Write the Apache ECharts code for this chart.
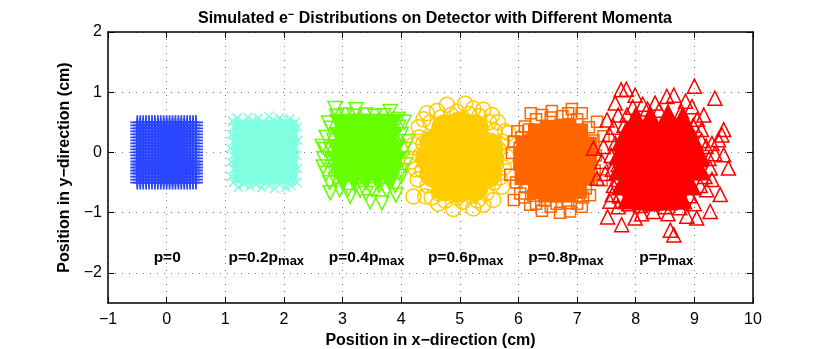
<!DOCTYPE html>
<html>
<head>
<meta charset="utf-8">
<script src="https://cdn.jsdelivr.net/npm/echarts@6/dist/echarts.min.js"></script>
<style>
  html, body { margin: 0; background: #fff; }
  #chart { width: 830px; height: 349px; }
</style>
</head>
<body>
<div id="chart"></div>
<script>
  const yTicks = [-2, -1, 0, 1, 2]

  const labelNames = ['p=0', 'p=0.2p', 'p=0.4p', 'p=0.6p', 'p=0.8p', 'p=p']
  const labelX = [0.01, 1.70, 3.41, 5.10, 6.81, 8.52]
  const labelY = -1.74

  // p=0 is a regular grid of source positions
  const blueGrid = [-0.5, -0.45, -0.4, -0.35, -0.3, -0.25, -0.2, -0.15, -0.1, -0.05, 0, 0.05, 0.1, 0.15, 0.2, 0.25, 0.3, 0.35, 0.4, 0.45, 0.5]

  // outer points, inner ones fill the solid part of each cloud
  const aquaEdge = [[1.12,.52],[1.2,.57],[1.3,.5],[1.38,.58],[1.47,.53],[1.56,.57],[1.65,.5],[1.74,.6],[1.82,.54],[1.92,.57],[2.0,.52],[2.1,.56],[2.19,.5],[2.23,.42],[2.18,.3],[2.24,.2],[2.19,.08],[2.22,-.05],[2.17,-.16],[2.23,-.27],[2.18,-.38],[2.22,-.5],[2.12,-.55],[2.03,-.58],[1.92,-.53],[1.84,-.6],[1.74,-.55],[1.62,-.58],[1.52,-.53],[1.42,-.57],[1.32,-.52],[1.22,-.58],[1.14,-.5],[1.1,-.4],[1.15,-.28],[1.1,-.16],[1.14,-.05],[1.09,.07],[1.14,.18],[1.11,.3],[1.15,.42],[1.25,.47],[1.43,.48],[1.6,.46],[1.78,.48],[1.97,.46],[2.13,.44],[2.12,.25],[2.14,.02],[2.13,-.22],[2.13,-.44],[1.97,-.47],[1.78,-.48],[1.58,-.47],[1.38,-.48],[1.2,-.44],[1.2,-.22],[1.19,0],[1.2,.24]]
  const aquaCore = [[1.3,.36],[1.5,.36],[1.7,.36],[1.9,.36],[2.05,.36],[1.3,.13],[1.5,.13],[1.7,.13],[1.9,.13],[2.05,.13],[1.3,-.1],[1.5,-.1],[1.7,-.1],[1.9,-.1],[2.05,-.1],[1.3,-.34],[1.5,-.34],[1.7,-.34],[1.9,-.34],[2.05,-.34]]

  const greenEdge = [[2.87,.73],[3.23,.71],[3.81,.68],[4.05,.5],[4.12,.18],[2.76,.49],[2.65,.1],[2.67,-.24],[2.79,-.67],[3.47,-.82],[3.67,-.84],[3.91,-.71],[3.13,-.73],[4.07,-.21],[2.9,.6],[3.05,.62],[3.2,.6],[3.4,.62],[3.55,.6],[3.7,.61],[3.95,.55],[2.8,.4],[2.72,.25],[2.7,.05],[2.68,-.1],[2.72,-.35],[2.78,-.5],[2.95,-.62],[3.1,-.6],[3.3,-.63],[3.5,-.62],[3.75,-.63],[3.9,-.55],[4.0,-.4],[4.02,-.1],[4.05,.05],[4.0,.3],[3.96,.42],[4.0,-.3],[2.85,-.3],[2.85,.2],[2.83,-.15],[2.88,-.45],[3.0,-.5],[3.22,-.55],[3.4,-.68],[3.62,-.55],[3.82,-.5],[3.93,-.15],[3.95,.1],[2.8,.05]]
  const greenCore = [[3.0,.42],[3.2,.42],[3.4,.42],[3.6,.42],[3.8,.42],[3.0,.2],[3.2,.2],[3.4,.2],[3.6,.2],[3.8,.2],[2.95,0],[3.2,0],[3.4,0],[3.6,0],[3.85,0],[2.95,-.2],[3.2,-.2],[3.4,-.2],[3.6,-.2],[3.85,-.2],[3.0,-.42],[3.2,-.42],[3.4,-.42],[3.6,-.42],[3.8,-.42]]

  const yellowEdge = [[4.61,.69],[4.78,.79],[5.09,.81],[4.44,.65],[5.55,.62],[5.23,.73],[5.4,.71],[5.77,.35],[5.83,.32],[4.21,.13],[4.18,-.15],[4.21,-.73],[4.41,-.73],[4.63,-.85],[4.89,-.94],[5.23,-.93],[5.4,-.87],[5.57,-.79],[5.72,-.57],[5.8,-.07],[4.3,.42],[4.38,.55],[4.95,.68],[5.65,.5],[5.72,.18],[5.75,-.25],[5.68,-.42],[4.28,-.45],[4.25,-.28],[4.3,.25],[4.52,-.75],[5.05,-.82],[5.3,-.8],[4.75,-.8],[4.5,.5],[4.68,.58],[4.85,.62],[5.15,.64],[5.33,.6],[5.5,.5],[5.6,.35],[5.66,.05],[5.62,-.2],[5.58,-.5],[5.45,-.68],[5.2,-.72],[4.95,-.75],[4.65,-.68],[4.45,-.55],[4.36,-.3],[4.32,-.05],[4.38,.15]]
  const yellowCore = [[4.75,.4],[5.0,.45],[5.25,.4],[4.55,.15],[4.8,.15],[5.05,.17],[5.3,.15],[5.5,.1],[4.48,-.1],[4.75,-.1],[5.0,-.1],[5.25,-.1],[5.52,-.1],[4.55,-.35],[4.8,-.35],[5.05,-.35],[5.3,-.35],[5.48,-.35],[4.75,-.58],[5.0,-.6],[5.25,-.58]]

  const orangeEdge = [[6.21,.65],[6.4,.62],[6.57,.69],[6.91,.72],[7.08,.65],[6.85,.65],[6.11,.43],[7.34,.51],[5.92,.18],[5.89,-.01],[5.86,-.37],[5.92,-.79],[6.2,-.87],[6.4,-.97],[6.71,-1.0],[6.88,-.98],[7.08,-.9],[7.22,-.71],[7.42,-.46],[7.45,.27],[6.03,-.68],[5.98,.35],[6.3,.55],[6.55,.58],[6.75,.6],[7.0,.55],[7.2,.42],[6.02,-.2],[5.96,-.5],[6.1,-.75],[6.3,-.85],[6.55,-.9],[7.0,-.85],[7.15,-.6],[7.3,-.3],[6.02,.08],[6.05,.25],[6.18,.38],[7.28,.2],[7.32,-.05],[7.25,-.45],[6.12,-.58],[6.25,-.72],[6.45,-.8],[6.65,-.85],[6.85,-.84],[7.1,-.75]]
  const orangeCore = [[6.35,.3],[6.55,.36],[6.8,.38],[7.0,.3],[6.15,.1],[6.4,.12],[6.65,.12],[6.9,.12],[7.15,.08],[6.1,-.12],[6.35,-.12],[6.6,-.12],[6.85,-.12],[7.15,-.12],[6.12,-.36],[6.4,-.36],[6.65,-.36],[6.9,-.36],[7.12,-.36],[6.35,-.58],[6.55,-.65],[6.8,-.65],[6.98,-.58]]

  const redEdge = [[7.75,1.04],[7.84,1.05],[7.99,.95],[7.65,.82],[9.0,1.1],[9.35,.9],[8.33,.82],[8.65,.95],[8.53,.93],[8.96,.76],[9.16,.62],[9.5,.38],[9.47,.29],[9.41,.21],[9.5,-.04],[9.58,-.26],[9.27,-.26],[9.21,-.62],[9.44,-.7],[9.27,-.98],[9.04,-1.09],[8.59,-1.29],[8.65,-1.37],[7.76,-1.2],[7.52,-1.07],[7.99,-1.09],[7.28,.07],[7.34,-.43],[7.51,.54],[7.56,-.81],[8.87,-1.06],[7.7,.62],[7.55,.3],[7.45,.1],[7.42,-.15],[7.48,-.35],[7.62,-.55],[7.7,-.9],[8.1,-1.02],[8.3,-.98],[8.55,-1.02],[8.75,-.92],[9.0,-.85],[9.1,-.55],[9.18,-.4],[9.25,-.1],[9.2,.1],[9.12,.38],[9.3,.15],[9.05,.55],[8.78,.68],[8.2,.72],[7.95,.75],[7.8,.45],[7.7,-.2],[7.6,-.7],[7.62,.42],[7.65,.15],[7.58,-.05],[7.6,-.28],[7.7,-.45],[7.72,-.72],[7.88,-.85],[8.08,-.88],[8.28,-.85],[8.5,-.9],[8.72,-.82],[8.92,-.72],[9.05,-.3],[9.1,-.12],[9.12,.2],[8.98,.45],[8.85,.85],[8.4,.7],[7.85,.62],[9.35,-.02],[9.3,-.45],[8.12,.8]]
  const redCore = [[8.0,.5],[8.25,.52],[8.55,.55],[8.8,.5],[7.85,.28],[8.1,.3],[8.35,.3],[8.6,.3],[8.9,.28],[7.8,.05],[8.05,.05],[8.3,.05],[8.55,.05],[8.8,.05],[9.0,.05],[7.8,-.2],[8.05,-.2],[8.3,-.2],[8.55,-.2],[8.8,-.2],[9.0,-.2],[7.85,-.45],[8.1,-.45],[8.35,-.45],[8.6,-.45],[8.85,-.45],[7.95,-.68],[8.2,-.7],[8.45,-.7],[8.7,-.68]]

  const blue = '#2a45ff'
  const aqua = '#7fffdf'
  const green = '#66ff00'
  const yellow = '#ffcc00'
  const orange = '#ff6600'
  const red = '#ff0000'

  const plusMark = 'path://M5 0L5 10M0 5L10 5'
  const crossMark = 'path://M0 0L10 10M10 0L0 10'

  function hollow(data, symbol, size, color, rotate, width) {
    return {
      type: 'scatter',
      data: data,
      symbol: symbol,
      symbolSize: size,
      symbolRotate: rotate || 0,
      itemStyle: { color: 'transparent', borderColor: color, borderWidth: width || 1.5, opacity: 1 }
    }
  }

  function filled(data, symbol, size, color, rotate) {
    return {
      type: 'scatter',
      data: data,
      symbol: symbol,
      symbolSize: size,
      symbolRotate: rotate || 0,
      itemStyle: { color: color, opacity: 1 }
    }
  }

  const bluePoints = []
  blueGrid.forEach(x => {
    blueGrid.forEach(y => {
      bluePoints.push([x, y])
    })
  })

  const minus = v => String(v).replace('-', '\u2212')
  const dotted = { show: true, lineStyle: { color: '#777', width: 1, type: [1, 6] } }
  const axisText = { color: '#000', fontSize: 16, fontFamily: 'Liberation Sans' }
  const axisName = { color: '#000', fontSize: 16, fontWeight: 'bold', fontFamily: 'Liberation Sans' }
  const axisEdge = { show: true, onZero: false, lineStyle: { color: '#000', width: 1.5 } }
  const tick = { show: true, inside: true, length: 6, lineStyle: { color: '#000', width: 1 } }

  const chart = echarts.init(document.getElementById('chart'), null, { renderer: 'canvas' })
  chart.setOption({
    animation: false,
    backgroundColor: '#fff',
    title: {
      left: 430,
      top: 4,
      textAlign: 'center',
      text: '{t|Simulated e}{u|\u2212}{t| Distributions on Detector with Different Momenta}',
      textStyle: {
        rich: {
          t: { fontSize: 16, fontWeight: 'bold', color: '#000', fontFamily: 'Liberation Sans' },
          u: { fontSize: 11, fontWeight: 'bold', color: '#000', fontFamily: 'Liberation Sans', padding: [0, 0, 8, 0] }
        }
      }
    },
    grid: { left: 108, top: 32, width: 645, height: 271, containLabel: false, outerBoundsMode: 'none' },
    xAxis: [{
      type: 'value',
      position: 'bottom',
      min: -1,
      max: 10,
      interval: 1,
      name: 'Position in x\u2212direction (cm)',
      nameLocation: 'middle',
      nameGap: 30,
      nameTextStyle: axisName,
      axisLine: axisEdge,
      axisTick: tick,
      axisLabel: { ...axisText, margin: 9, formatter: minus, showMinLabel: true, showMaxLabel: true },
      splitLine: dotted
    }, {
      type: 'value',
      position: 'top',
      min: -1,
      max: 10,
      interval: 1,
      axisLine: axisEdge,
      axisTick: tick,
      axisLabel: { show: false },
      splitLine: { show: false }
    }],
    yAxis: [{
      type: 'value',
      position: 'left',
      min: -2.5,
      max: 2,
      name: 'Position in y\u2212direction (cm)',
      nameLocation: 'middle',
      nameGap: 31,
      nameTextStyle: axisName,
      axisLine: axisEdge,
      axisTick: { ...tick, customValues: yTicks },
      axisLabel: { ...axisText, margin: 6, formatter: minus, customValues: yTicks },
      splitLine: dotted
    }, {
      type: 'value',
      position: 'right',
      min: -2.5,
      max: 2,
      axisLine: axisEdge,
      axisTick: { ...tick, customValues: yTicks },
      axisLabel: { show: false },
      splitLine: { show: false }
    }],
    series: [
      hollow(bluePoints, plusMark, 14, blue, 0, 1.8),
      filled(aquaCore, 'rect', 21, aqua),
      hollow(aquaEdge, crossMark, 9, aqua),
      filled(greenCore, 'triangle', 27, green, 180),
      hollow(greenEdge, 'triangle', 14, green, 180),
      filled(yellowCore, 'circle', 28, yellow),
      hollow(yellowEdge, 'circle', 15, yellow),
      filled(orangeCore, 'rect', 22, orange),
      hollow(orangeEdge, 'rect', 11, orange),
      filled(redCore, 'triangle', 32, red),
      hollow(redEdge, 'triangle', 14, red),
      {
        type: 'scatter',
        symbolSize: 0,
        silent: true,
        itemStyle: { opacity: 1 },
        data: labelNames.map((name, i) => ({ value: [labelX[i], labelY], name: name })),
        label: {
          show: true,
          position: 'inside',
          opacity: 1,
          formatter: p => p.dataIndex === 0 ? '{b|' + p.name + '}' : '{b|' + p.name + '}{s|max}',
          rich: {
            b: { fontSize: 15.5, fontWeight: 'bold', color: '#000', fontFamily: 'Liberation Sans' },
            s: { fontSize: 13, fontWeight: 'bold', color: '#000', fontFamily: 'Liberation Sans', padding: [9, 0, 0, 0] }
          }
        }
      }
    ]
  })
</script>
</body>
</html>
